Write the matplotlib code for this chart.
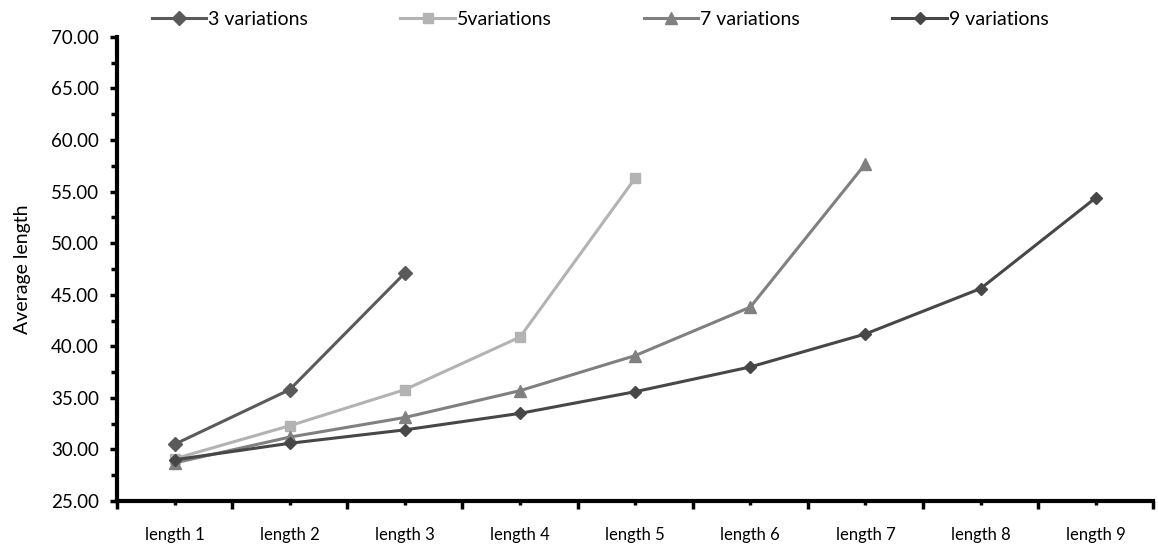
import matplotlib
matplotlib.use('Agg')
import matplotlib.pyplot as plt
from matplotlib.ticker import MultipleLocator, FixedLocator, NullFormatter

plt.rcParams['font.family'] = ['Lato', 'DejaVu Sans']

# chart data
categories = ['length 1', 'length 2', 'length 3', 'length 4', 'length 5',
              'length 6', 'length 7', 'length 8', 'length 9']
var3 = [30.5, 35.8, 47.1]
var5 = [29.1, 32.3, 35.8, 40.9, 56.3]
var7 = [28.7, 31.2, 33.1, 35.7, 39.1, 43.8, 57.7]
var9 = [29.0, 30.6, 31.9, 33.5, 35.6, 38.0, 41.2, 45.6, 54.4]

series = [
    ('3 variations', var3, '#5a5a5a', 'D', 7),
    ('5variations', var5, '#b3b3b3', 's', 7),
    ('7 variations', var7, '#808080', '^', 9),
    ('9 variations', var9, '#474747', 'D', 6),
]

fig = plt.figure(figsize=(11.58, 5.5), dpi=100)
ax = fig.add_axes([0.101, 0.089, 0.895, 0.844])

for name, vals, col, mk, ms in series:
    xs = list(range(1, len(vals) + 1))
    ax.plot(xs, vals, color=col, marker=mk, markersize=ms, linewidth=2.2,
            label=name)

ax.set_xlim(0.5, 9.5)
ax.set_ylim(25, 70)

ax.yaxis.set_major_locator(MultipleLocator(5))
ax.yaxis.set_minor_locator(MultipleLocator(2.5))
ax.yaxis.set_major_formatter(plt.FuncFormatter(lambda v, p: f'{v:.2f}'))

ax.xaxis.set_major_locator(FixedLocator([i + 0.5 for i in range(0, 10)]))
ax.xaxis.set_major_formatter(NullFormatter())
ax.xaxis.set_minor_locator(FixedLocator(list(range(1, 10))))
ax.set_xticks(range(1, 10), categories, minor=True)

ax.tick_params(axis='x', which='major', length=6, width=2.5, direction='out')
ax.tick_params(axis='x', which='minor', length=3, width=2.5, direction='out',
               pad=16, labelsize=12)
ax.tick_params(axis='y', which='major', length=5, width=2.5, direction='out',
               labelsize=13.5, pad=8)
ax.tick_params(axis='y', which='minor', length=4, width=2.5, direction='out')

for side in ['top', 'right']:
    ax.spines[side].set_visible(False)
for side in ['left', 'bottom']:
    ax.spines[side].set_linewidth(3)

ax.set_ylabel('Average length', fontsize=14, labelpad=14)

ax.legend(loc='lower left', bbox_to_anchor=(0.026, 1.003), ncol=4, frameon=False,
          fontsize=14, handlelength=2.8, handletextpad=0.1, columnspacing=4.75,
          borderaxespad=0)

fig.savefig('out.png', dpi=100)
